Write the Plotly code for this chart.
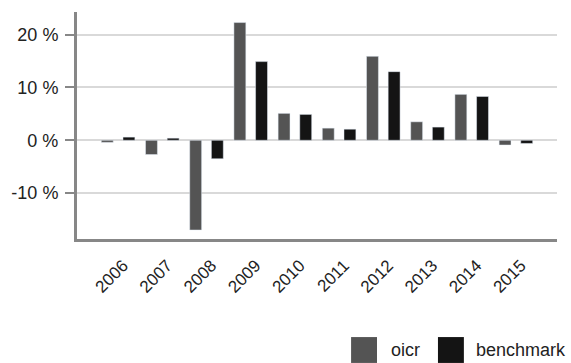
import plotly.graph_objects as go

years = ['2006', '2007', '2008', '2009', '2010', '2011', '2012', '2013', '2014', '2015']
oicr = [-0.4, -2.7, -17.0, 22.3, 5.1, 2.3, 15.9, 3.5, 8.7, -0.9]
benchmark = [0.6, 0.4, -3.5, 14.9, 4.9, 2.1, 13.0, 2.5, 8.3, -0.6]

y_ticks = [-10, 0, 10, 20]
y_labels = ['-10 %', '0 %', '10 %', '20 %']

c_oicr = '#545454'
c_bench = '#141414'

fig = go.Figure()
fig.add_trace(go.Bar(x=years, y=oicr, name='oicr', marker_color=c_oicr))
fig.add_trace(go.Bar(x=years, y=benchmark, name='benchmark', marker_color=c_bench))

# legend drawn by hand (big square swatches, bottom right)
legend_items = [('oicr', c_oicr, 0.571, 0.650), ('benchmark', c_bench, 0.752, 0.827)]
for name, col, sx, tx in legend_items:
    fig.add_shape(type='rect', xref='paper', yref='paper',
                  x0=sx, x1=sx + 0.054, y0=-0.546, y1=-0.432,
                  fillcolor=col, line_width=0)
    fig.add_annotation(text=name, xref='paper', yref='paper', x=tx, y=-0.489,
                       xanchor='left', yanchor='middle', showarrow=False,
                       font=dict(size=18, color='#222222'))

fig.update_layout(
    width=571, height=363,
    margin=dict(l=77, r=14, t=12, b=124, autoexpand=False),
    plot_bgcolor='white', paper_bgcolor='white',
    barmode='group', bargap=0.02, bargroupgap=0.45,
    showlegend=False,
    font=dict(family='Liberation Sans, Arial, sans-serif', color='#222222'),
)
fig.update_xaxes(
    type='category', range=[-0.93, 9.93],
    showline=True, linecolor='#878787', linewidth=3,
    showgrid=False, ticks='', tickangle=-45, tickfont=dict(size=17),
    ticklabelstandoff=7, ticklabelshift=5,
)
fig.update_yaxes(
    range=[-18.7, 24.3], tickmode='array', tickvals=y_ticks, ticktext=y_labels,
    showline=True, linecolor='#878787', linewidth=3,
    showgrid=True, gridcolor='#d9d9d9', gridwidth=2,
    zeroline=True, zerolinecolor='#d9d9d9', zerolinewidth=2,
    ticks='outside', ticklen=9, tickwidth=2, tickcolor='#878787',
    tickfont=dict(size=18), ticklabelstandoff=3,
)

fig.write_html("out.html", config={'displayModeBar': False},
               post_script="document.body.style.margin='0';")
